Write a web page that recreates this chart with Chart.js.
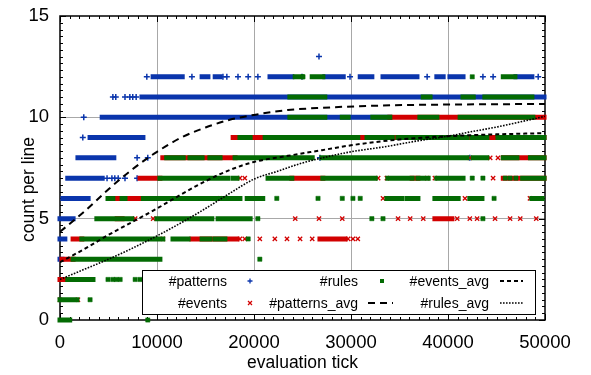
<!DOCTYPE html>
<html><head><meta charset="utf-8">
<script src="https://cdn.jsdelivr.net/npm/chart.js@4"></script>
<style>html,body{margin:0;padding:0;background:#fff}#wrap{width:591px;height:375px}</style>
</head><body><div id="wrap"><canvas id="c" width="591" height="375"></canvas></div>
<script>
// ---- tick labels / axis data ----
const xTickValues = [0, 10000, 20000, 30000, 40000, 50000];
const yTickValues = [0, 5, 10, 15];
const seriesNames = ['#patterns', '#events', '#rules', '#patterns_avg', '#events_avg', '#rules_avg'];
const axisTitles = { x: 'evaluation tick', y: 'count per line' };

// ---- dense runs of points: [level, fromTick, toTick] ----
const patternsRuns = [
  [12, 9600, 10000], [12, 10500, 11350], [12, 11650, 12600], [12, 14650, 15250], [12, 16000, 16500],
  [12, 21650, 23900], [12, 27300, 28050], [12, 28550, 29200], [12, 30950, 32150], [12, 33300, 36800],
  [12, 38850, 39500], [12, 40200, 41550], [12, 47000, 48650],
  [11, 8450, 49900],
  [10, 4350, 4950], [10, 5450, 34000],
  [9, 3100, 3800], [9, 4100, 8550],
  [8, 1850, 5550],
  [7, 800, 4350],
  [6, 300, 2900],
  [5, 0, 1350],
  [4, 0, 500],
  [3, 0, 200]
];
const eventsRuns = [
  [10, 34000, 49900],
  [9, 17850, 49900],
  [8, 10600, 18050], [8, 45700, 49900],
  [7, 8250, 10300], [7, 23900, 27100], [7, 36300, 36900], [7, 45700, 49900],
  [6, 5450, 10200],
  [5, 5900, 6400], [5, 38650, 40400],
  [4, 1350, 2250], [4, 13600, 18250], [4, 26800, 29400],
  [3, 200, 1350],
  [2, 0, 500]
];
const rulesRuns = [
  [12, 24250, 24950], [12, 26000, 27100], [12, 45700, 46900],
  [11, 23700, 24950], [11, 25150, 27300], [11, 37450, 38150], [11, 41550, 42600], [11, 43800, 48650],
  [10, 23700, 26100], [10, 26300, 27300], [10, 29100, 29700], [10, 32250, 34000], [10, 37100, 38850],
  [10, 41250, 43300], [10, 43500, 48750],
  [9, 18550, 19600], [9, 21150, 22700], [9, 22900, 24250], [9, 24550, 30700], [9, 31650, 34250],
  [9, 34850, 41950], [9, 42500, 44000], [9, 45150, 47200], [9, 47650, 49900],
  [8, 11000, 12700], [8, 13400, 14650], [8, 15450, 16500], [8, 18050, 20300], [8, 20600, 24450],
  [8, 24550, 26000], [8, 27000, 32500], [8, 33000, 41950], [8, 42600, 44000], [8, 45700, 45800],
  [8, 46000, 46300], [8, 46600, 47100], [8, 48500, 49900],
  [7, 10300, 12900], [7, 13200, 17300], [7, 17850, 18250], [7, 21450, 23900], [7, 27100, 29400],
  [7, 29600, 32500], [7, 33800, 36300], [7, 36900, 37950], [7, 38850, 41550], [7, 47700, 49900],
  [6, 4950, 5450], [6, 6400, 6700], [6, 8600, 9800], [6, 10200, 18550], [6, 19300, 20900],
  [6, 33700, 35250], [6, 35800, 36900], [6, 38650, 41050], [6, 42250, 42800], [6, 43100, 43500],
  [6, 48650, 49700],
  [5, 3800, 5900], [5, 6400, 7400], [5, 10000, 13600], [5, 13900, 15650], [5, 16300, 18350], [5, 18750, 19600],
  [4, 2250, 10600], [4, 11650, 13200], [4, 14650, 15450], [4, 16000, 17000],
  [3, 1350, 6900], [3, 7100, 10300],
  [2, 800, 3400],
  [1, 0, 1750],
  [0, 0, 1000]
];

// ---- isolated points: [tick, count] ----
const patternsPts = [
  [8950, 12], [13600, 12], [16800, 12], [17200, 12], [18350, 12], [19400, 12], [20400, 12], [24950, 12],
  [29900, 12], [37850, 12], [43600, 12], [44650, 12], [49300, 12],
  [26700, 13],
  [5450, 11], [5750, 11], [6700, 11], [7200, 11], [7500, 11], [7850, 11],
  [2450, 10], [2350, 9],
  [7950, 8], [9050, 8], [26800, 8], [42250, 8],
  [4850, 7], [5350, 7], [5650, 7], [6000, 7], [6700, 7], [7950, 7]
];
const eventsPts = [
  [42250, 8], [44350, 8], [45150, 8],
  [18550, 7], [19050, 7], [32800, 7], [33700, 7], [37850, 7], [38650, 7], [44650, 7],
  [16500, 6], [33300, 6], [41750, 6], [48450, 6],
  [7750, 5], [9600, 5], [24250, 5], [26700, 5], [29100, 5], [34850, 5], [36100, 5], [37450, 5], [40950, 5],
  [42250, 5], [43000, 5], [44850, 5], [46400, 5], [47450, 5], [49100, 5],
  [10600, 4], [18550, 4], [19050, 4], [20600, 4], [22150, 4], [23400, 4], [24750, 4], [26000, 4],
  [29700, 4], [30200, 4], [30700, 4],
  [0, 1], [1850, 1]
];
const rulesPts = [
  [25050, 12], [42500, 12],
  [42500, 7], [43600, 7], [45900, 7], [46400, 7], [47000, 7],
  [22350, 6], [26600, 6], [29100, 6], [30200, 6], [30950, 6], [44750, 6],
  [20400, 5], [32150, 5], [33300, 5], [43600, 5],
  [19400, 4], [20600, 3],
  [4950, 2], [5450, 2], [5800, 2], [6200, 2], [7750, 2], [8250, 2],
  [3100, 1], [9050, 0]
];

// ---- running averages: [tick, value] ----
const patternsAvg = [[0,4.35],[2500,5.35],[5000,6.45],[7500,7.45],[10000,8.3],[12500,9.0],[15000,9.5],[17500,9.88],[20000,10.12],[23500,10.36],[27000,10.47],[33000,10.58],[40000,10.63],[50000,10.66]];
const eventsAvg = [[0,2.85],[2500,3.5],[5000,4.2],[7500,4.85],[10000,5.5],[12500,6.2],[15000,6.85],[17500,7.4],[20000,7.8],[23500,8.1],[27000,8.38],[30000,8.62],[34000,8.86],[40000,9.07],[45000,9.16],[50000,9.22]];
const rulesAvg = [[0,2.0],[2500,2.5],[5000,3.0],[7500,3.55],[10000,4.15],[12500,4.8],[15000,5.5],[17500,6.25],[20000,6.95],[22500,7.35],[25000,7.75],[27500,8.05],[30000,8.3],[33500,8.55],[37000,8.85],[40000,9.07],[42500,9.3],[45000,9.52],[47500,9.78],[50000,10.05]];

// ---- styling ----
const C_BLUE = '#0a35ac', C_RED = '#d20000', C_GREEN = '#036b03';
const FONT = '"Liberation Sans", Arial, Helvetica, sans-serif';

function runsToData(runs) {
  const out = [];
  runs.forEach(([y, a, b]) => { out.push({x: a, y: y}, {x: b, y: y}, {x: b, y: null}); });
  return out;
}
const pts = arr => arr.map(([x, y]) => ({x, y}));

function runDs(runs, color, order) {
  return { type: 'line', data: runsToData(runs), borderColor: color, borderWidth: 5, borderCapStyle: 'square',
    pointRadius: 0, showLine: true, spanGaps: false, tension: 0, order, clip: false, fill: false };
}
function ptDs(points, color, style, radius, bw, order) {
  return { type: 'scatter', data: pts(points), pointStyle: style, pointRadius: radius, borderColor: color,
    backgroundColor: color, borderWidth: bw, showLine: false, order, clip: false };
}
function avgDs(points, dash, width, order) {
  return { type: 'line', data: pts(points), borderColor: '#000', borderWidth: width, borderDash: dash,
    pointRadius: 0, cubicInterpolationMode: 'monotone', order, fill: false, borderCapStyle: 'butt' };
}

const DASH = { patterns: [7, 5], events: [4, 3], rules: [1.6, 1.4] };

const framePlugin = {
  id: 'frame',
  beforeDatasetsDraw(chart) {
    const ctx = chart.ctx, a = chart.chartArea, xs = chart.scales.x, ys = chart.scales.y;
    ctx.save();
    ctx.strokeStyle = '#000';
    ctx.lineWidth = 1;
    ctx.beginPath();
    for (let v = 0; v <= 50000; v += 1000) {
      const px = Math.round(xs.getPixelForValue(v)) + 0.5;
      const len = xTickValues.includes(v) ? 6 : 3;
      ctx.moveTo(px, a.bottom); ctx.lineTo(px, a.bottom - len);
      ctx.moveTo(px, a.top); ctx.lineTo(px, a.top + len);
    }
    for (let i = 0; i <= 45; i++) {
      const v = i / 3;
      const py = Math.round(ys.getPixelForValue(v)) + 0.5;
      const len = (i % 15 === 0) ? 6 : 3;
      ctx.moveTo(a.left, py); ctx.lineTo(a.left + len, py);
      ctx.moveTo(a.right, py); ctx.lineTo(a.right - len, py);
    }
    ctx.stroke();
    ctx.lineWidth = 1.5;
    ctx.strokeRect(a.left, a.top, a.right - a.left, a.bottom - a.top);
    ctx.restore();
  },
  afterDraw(chart) {
    const ctx = chart.ctx, a = chart.chartArea;
    ctx.save();
    // axis titles
    ctx.fillStyle = '#000';
    ctx.font = '17.5px ' + FONT;
    ctx.textAlign = 'center';
    ctx.textBaseline = 'alphabetic';
    ctx.fillText(axisTitles.x, (a.left + a.right) / 2, 368);
    ctx.save();
    ctx.translate(34, 189.5);
    ctx.rotate(-Math.PI / 2);
    ctx.fillText(axisTitles.y, 0, 0);
    ctx.restore();
    // key box
    const bx = 142, by = 270, bw = 393, bh = 44;
    ctx.fillStyle = '#fff';
    ctx.fillRect(bx, by, bw, bh);
    ctx.strokeStyle = '#000';
    ctx.lineWidth = 1;
    ctx.strokeRect(bx + 0.5, by + 0.5, bw, bh);
    ctx.font = '14px ' + FONT;
    ctx.fillStyle = '#000';
    ctx.textAlign = 'right';
    ctx.textBaseline = 'middle';
    const colX = [227, 358, 489], rowY = [281, 303];
    const sampleX = [250, 382, 511];
    seriesNames.forEach((name, i) => {
      const col = Math.floor(i / 2), row = i % 2;
      ctx.fillStyle = '#000';
      ctx.fillText(name, colX[col], rowY[row] + 1);
      const sx = sampleX[col], sy = rowY[row];
      ctx.save();
      if (i === 0) {
        ctx.strokeStyle = C_BLUE; ctx.lineWidth = 1.3; ctx.beginPath();
        ctx.moveTo(sx - 2.5, sy); ctx.lineTo(sx + 2.5, sy); ctx.moveTo(sx, sy - 2.5); ctx.lineTo(sx, sy + 2.5); ctx.stroke();
      } else if (i === 1) {
        ctx.strokeStyle = C_RED; ctx.lineWidth = 1.2; ctx.beginPath();
        ctx.moveTo(sx - 2, sy - 2); ctx.lineTo(sx + 2, sy + 2); ctx.moveTo(sx + 2, sy - 2); ctx.lineTo(sx - 2, sy + 2); ctx.stroke();
      } else if (i === 2) {
        ctx.fillStyle = C_GREEN; ctx.fillRect(sx - 2, sy - 2, 4, 4);
      } else {
        const key = ['patterns', 'events', 'rules'][i - 3];
        const x0 = i === 3 ? 368 : 500, x1 = i === 3 ? 393 : 523;
        ctx.strokeStyle = '#000'; ctx.lineWidth = i === 5 ? 1.6 : 2; ctx.setLineDash(DASH[key]);
        ctx.beginPath(); ctx.moveTo(x0, sy); ctx.lineTo(x1, sy); ctx.stroke();
      }
      ctx.restore();
    });
    ctx.restore();
  }
};

const gridColor = (ends) => (c) => (c.tick && ends.includes(c.tick.value)) ? 'rgba(0,0,0,0)' : '#a8a8a8';

new Chart(document.getElementById('c'), {
  type: 'scatter',
  data: {
    datasets: [
      avgDs(rulesAvg, DASH.rules, 1.6, 0),
      avgDs(eventsAvg, DASH.events, 2, 1),
      avgDs(patternsAvg, DASH.patterns, 2, 2),
      ptDs(rulesPts, C_GREEN, 'rect', 3, 0.5, 3),
      runDs(rulesRuns, C_GREEN, 4),
      ptDs(eventsPts, C_RED, 'crossRot', 3, 1.3, 5),
      runDs(eventsRuns, C_RED, 6),
      ptDs(patternsPts, C_BLUE, 'cross', 3, 1.5, 7),
      runDs(patternsRuns, C_BLUE, 8)
    ]
  },
  options: {
    responsive: false,
    animation: false,
    devicePixelRatio: 1,
    events: [],
    layout: { padding: { top: 16, right: 46, left: 0, bottom: 0 } },
    plugins: { legend: { display: false }, tooltip: { enabled: false } },
    scales: {
      x: {
        type: 'linear', min: 0, max: 50000,
        afterBuildTicks: s => { s.ticks = xTickValues.map(v => ({ value: v })); },
        afterFit: s => { s.height = 55; s.paddingLeft = 0; s.paddingRight = 0; },
        ticks: { callback: v => String(v), color: '#000', font: { family: FONT, size: 18.5 }, padding: 12, maxRotation: 0, autoSkip: false },
        grid: { color: gridColor([0, 50000]), drawTicks: false, lineWidth: 1 },
        border: { display: false }
      },
      y: {
        type: 'linear', min: 0, max: 15,
        afterBuildTicks: s => { s.ticks = yTickValues.map(v => ({ value: v })); },
        afterFit: s => { s.width = 60; s.paddingTop = 0; s.paddingBottom = 0; },
        ticks: { callback: v => String(v), color: '#000', font: { family: FONT, size: 18.5 }, padding: 11, autoSkip: false },
        grid: { color: gridColor([0, 15]), drawTicks: false, lineWidth: 1 },
        border: { display: false }
      }
    }
  },
  plugins: [framePlugin]
});
</script>
</body></html>
